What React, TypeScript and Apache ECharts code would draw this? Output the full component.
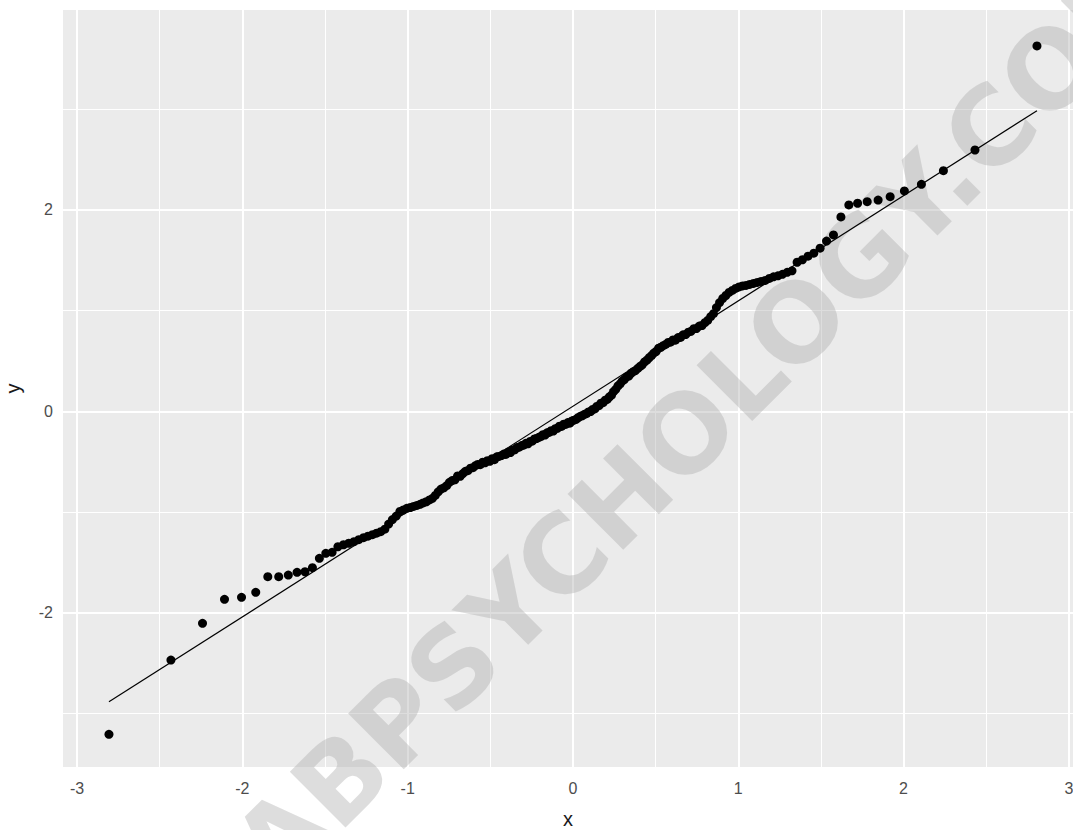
import React, { useEffect, useRef } from "react";
import * as echarts from "echarts";

// Theoretical normal quantiles (x)
const theoretical = [
  -2.807, -2.432, -2.241, -2.108, -2.005, -1.919, -1.846, -1.78, -1.722, -1.669,
  -1.621, -1.576, -1.534, -1.495, -1.457, -1.422, -1.388, -1.356, -1.325, -1.296,
  -1.267, -1.24, -1.213, -1.188, -1.163, -1.138, -1.115, -1.092, -1.069, -1.047,
  -1.026, -1.005, -0.984, -0.964, -0.944, -0.925, -0.906, -0.887, -0.868, -0.85,
  -0.833, -0.815, -0.798, -0.781, -0.764, -0.747, -0.731, -0.714, -0.698, -0.682,
  -0.666, -0.651, -0.636, -0.62, -0.605, -0.59, -0.576, -0.561, -0.546, -0.532,
  -0.518, -0.503, -0.489, -0.475, -0.461, -0.447, -0.433, -0.419, -0.406, -0.392,
  -0.378, -0.365, -0.352, -0.338, -0.325, -0.311, -0.298, -0.285, -0.272, -0.259,
  -0.246, -0.233, -0.22, -0.207, -0.195, -0.182, -0.169, -0.157, -0.144, -0.132,
  -0.119, -0.107, -0.094, -0.082, -0.069, -0.056, -0.044, -0.031, -0.019, -0.006,
  0.006, 0.019, 0.031, 0.044, 0.056, 0.069, 0.082, 0.094, 0.107, 0.119,
  0.132, 0.144, 0.157, 0.169, 0.182, 0.195, 0.207, 0.22, 0.233, 0.246,
  0.259, 0.272, 0.285, 0.298, 0.311, 0.325, 0.338, 0.352, 0.365, 0.378,
  0.392, 0.406, 0.419, 0.433, 0.447, 0.461, 0.475, 0.489, 0.503, 0.518,
  0.532, 0.546, 0.561, 0.576, 0.59, 0.605, 0.62, 0.636, 0.651, 0.666,
  0.682, 0.698, 0.714, 0.731, 0.747, 0.764, 0.781, 0.798, 0.815, 0.833,
  0.85, 0.868, 0.887, 0.906, 0.925, 0.944, 0.964, 0.984, 1.005, 1.026,
  1.047, 1.069, 1.092, 1.115, 1.138, 1.163, 1.188, 1.213, 1.24, 1.267,
  1.296, 1.325, 1.356, 1.388, 1.422, 1.457, 1.495, 1.534, 1.576, 1.621,
  1.669, 1.722, 1.78, 1.846, 1.919, 2.005, 2.108, 2.241, 2.432, 2.807,
];

// Sample quantiles (y)
const sample = [
  -3.208, -2.47, -2.105, -1.867, -1.847, -1.797, -1.642, -1.642, -1.626, -1.599,
  -1.593, -1.553, -1.46, -1.41, -1.4, -1.345, -1.325, -1.31, -1.295, -1.275,
  -1.255, -1.24, -1.225, -1.21, -1.195, -1.17, -1.12, -1.075, -1.04, -0.995,
  -0.98, -0.963, -0.955, -0.945, -0.935, -0.924, -0.91, -0.898, -0.88, -0.864,
  -0.835, -0.8, -0.772, -0.76, -0.738, -0.705, -0.688, -0.68, -0.642, -0.645,
  -0.618, -0.596, -0.59, -0.565, -0.56, -0.54, -0.528, -0.53, -0.506, -0.512,
  -0.49, -0.496, -0.47, -0.48, -0.452, -0.448, -0.44, -0.425, -0.428, -0.405,
  -0.41, -0.384, -0.382, -0.36, -0.356, -0.34, -0.336, -0.318, -0.322, -0.3,
  -0.296, -0.275, -0.27, -0.258, -0.252, -0.232, -0.236, -0.214, -0.21, -0.192,
  -0.196, -0.172, -0.168, -0.148, -0.15, -0.128, -0.13, -0.112, -0.118, -0.095,
  -0.088, -0.08, -0.064, -0.05, -0.044, -0.03, -0.024, -0.006, -0.002, 0.018,
  0.024, 0.048, 0.056, 0.08, 0.086, 0.11, 0.118, 0.142, 0.16, 0.196,
  0.218, 0.252, 0.272, 0.3, 0.316, 0.342, 0.35, 0.378, 0.394, 0.404,
  0.426, 0.446, 0.462, 0.49, 0.508, 0.532, 0.552, 0.578, 0.594, 0.626,
  0.636, 0.652, 0.664, 0.684, 0.686, 0.708, 0.706, 0.732, 0.734, 0.76,
  0.762, 0.786, 0.794, 0.82, 0.822, 0.846, 0.852, 0.88, 0.902, 0.94,
  0.97, 1.03, 1.08, 1.12, 1.15, 1.18, 1.2, 1.22, 1.235, 1.245,
  1.25, 1.26, 1.27, 1.28, 1.29, 1.3, 1.32, 1.335, 1.345, 1.36,
  1.38, 1.395, 1.48, 1.505, 1.54, 1.57, 1.62, 1.69, 1.751, 1.93,
  2.049, 2.066, 2.082, 2.098, 2.131, 2.188, 2.254, 2.389, 2.595, 3.628,
];

// Reference line (qq line) end points
const lineX = [-2.807, 2.807];
const lineY = [-2.885, 2.985];

// Ticks and grid lines
const xTicks = [-3, -2, -1, 0, 1, 2, 3];
const yTicks = [-2, 0, 2];
const xMinor = [-2.5, -1.5, -0.5, 0.5, 1.5, 2.5];
const yMinor = [-3, -1, 1, 3];
const xLimits = [-3.085, 3.025];
const yLimits = [-3.532, 3.985];

const watermark = "ABPSYCHOLOGY.COM";

export default function App() {
  const ref = useRef<HTMLDivElement>(null);

  useEffect(() => {
    if (!ref.current) return;
    const chart = echarts.init(ref.current, undefined, { renderer: "svg" });

    const points = theoretical.map((x, i) => [x, sample[i]]);
    const linePts = lineX.map((x, i) => [x, lineY[i]]);

    const major = { color: "#ffffff", width: 2, type: "solid" as const };
    const minor = { color: "#ffffff", width: 1, type: "solid" as const };
    const gridLines = [
      ...xMinor.map((v) => ({ xAxis: v, lineStyle: minor })),
      ...yMinor.map((v) => ({ yAxis: v, lineStyle: minor })),
      ...xTicks.map((v) => ({ xAxis: v, lineStyle: major })),
      ...yTicks.map((v) => ({ yAxis: v, lineStyle: major })),
    ];

    const labelFont = '"Liberation Sans", Arial, sans-serif';

    chart.setOption({
      animation: false,
      backgroundColor: "#ffffff",
      grid: {
        left: 63,
        top: 10,
        right: 0,
        bottom: 63,
        show: true,
        backgroundColor: "#EBEBEB",
        borderWidth: 0,
        containLabel: false,
        outerBoundsMode: "none",
      },
      xAxis: {
        type: "value",
        min: xLimits[0],
        max: xLimits[1],
        name: "x",
        nameLocation: "middle",
        nameGap: 42,
        nameTextStyle: { color: "#1a1a1a", fontSize: 20, fontFamily: labelFont },
        axisLine: { show: false },
        axisTick: {
          show: true,
          length: 5,
          customValues: xTicks,
          lineStyle: { color: "#444444", width: 2 },
        },
        axisLabel: {
          show: true,
          customValues: xTicks,
          margin: 13,
          color: "#4D4D4D",
          fontSize: 16,
          fontFamily: labelFont,
        },
        splitLine: { show: false },
      },
      yAxis: {
        type: "value",
        min: yLimits[0],
        max: yLimits[1],
        name: "y",
        nameLocation: "middle",
        nameGap: 40,
        nameRotate: 90,
        nameTextStyle: { color: "#1a1a1a", fontSize: 20, fontFamily: labelFont },
        axisLine: { show: false },
        axisTick: {
          show: true,
          length: 5,
          customValues: yTicks,
          lineStyle: { color: "#444444", width: 2 },
        },
        axisLabel: {
          show: true,
          customValues: yTicks,
          margin: 10,
          color: "#4D4D4D",
          fontSize: 16,
          fontFamily: labelFont,
        },
        splitLine: { show: false },
      },
      graphic: [
        {
          type: "text",
          x: 706,
          y: 414,
          rotation: Math.PI / 4,
          z: 3,
          silent: true,
          style: {
            text: watermark,
            font: 'bold 108px "DejaVu Sans", sans-serif',
            fill: "rgb(175,175,175)",
            opacity: 0.42,
            align: "center",
            verticalAlign: "middle",
          },
        },
      ],
      series: [
        {
          type: "scatter",
          data: [],
          z: 1,
          silent: true,
          markLine: {
            silent: true,
            z: 1,
            symbol: ["none", "none"],
            label: { show: false },
            animation: false,
            data: gridLines,
          },
        },
        {
          type: "line",
          data: linePts,
          z: 8,
          symbol: "none",
          silent: true,
          lineStyle: { color: "#000000", width: 1.2 },
        },
        {
          type: "scatter",
          data: points,
          z: 10,
          symbol: "circle",
          symbolSize: 9,
          silent: true,
          itemStyle: { color: "#000000", opacity: 1 },
        },
      ],
    });

    return () => chart.dispose();
  }, []);

  return (
    <div
      ref={ref}
      style={{ position: "absolute", left: 0, top: 0, width: 1073, height: 830 }}
    />
  );
}
